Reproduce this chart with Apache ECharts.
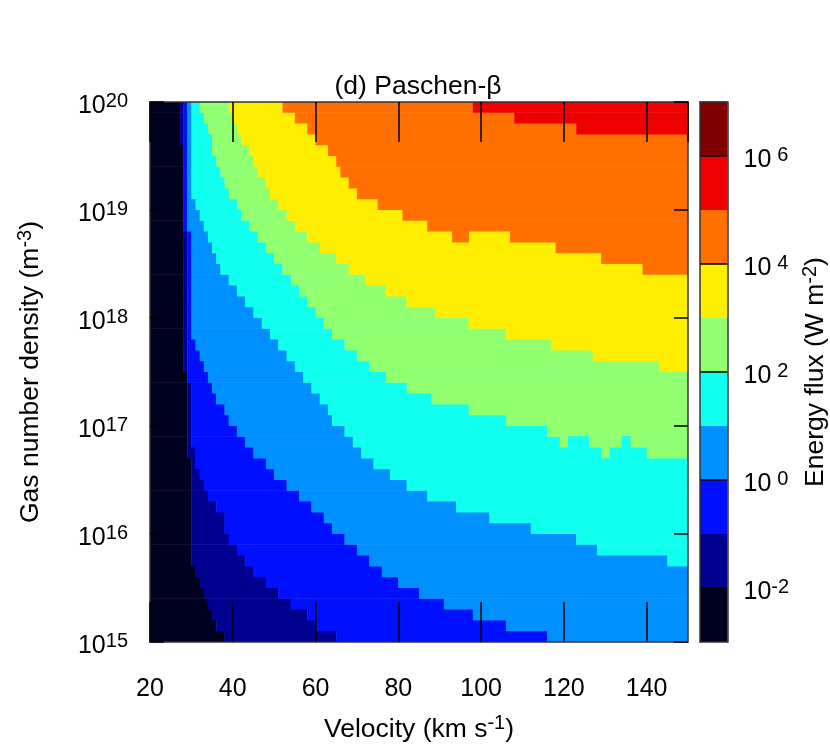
<!DOCTYPE html>
<html>
<head>
<meta charset="utf-8">
<script src="https://cdn.jsdelivr.net/npm/echarts@6/dist/echarts.min.js"></script>
<style>
html, body { margin: 0; padding: 0; background: #fff; }
#main { width: 830px; height: 756px; }
</style>
</head>
<body>
<div id="main"></div>
<script>
var FONT = 'Liberation Sans, Arial, sans-serif';

// log10 of gas number density at the bottom of each row (m^-3)
var rowExp = [15.0, 15.1, 15.2, 15.3, 15.4, 15.5, 15.6, 15.7, 15.8, 15.9,
              16.0, 16.1, 16.2, 16.3, 16.4, 16.5, 16.6, 16.7, 16.8, 16.9,
              17.0, 17.1, 17.2, 17.3, 17.4, 17.5, 17.6, 17.7, 17.8, 17.9,
              18.0, 18.1, 18.2, 18.3, 18.4, 18.5, 18.6, 18.7, 18.8, 18.9,
              19.0, 19.1, 19.2, 19.3, 19.4, 19.5, 19.6, 19.7, 19.8, 19.9];

// velocity (km/s) where the flux first reaches each decade, per row (151 = never)
var vFlux1e_2 = [38, 36, 35, 34, 33, 32, 31, 30, 30, 30, 30, 30, 30, 30, 30, 30, 30,
                 29, 29, 29, 29, 29, 29, 29, 29,
                 28, 28, 28, 28, 28, 28, 28, 28, 28, 28, 28, 28, 28, 28, 28, 28, 28, 28, 28, 28, 28,
                 27, 27, 27, 27];
var vFlux1e_1 = [65, 60, 58, 54, 51, 48, 45, 43, 41, 39, 38, 38, 36, 34, 33, 32, 31, 31, 30, 30, 30,
                 30, 30, 30, 29, 29, 29, 29,
                 29, 29, 29, 29, 29, 29, 29, 29, 29, 29,
                 28, 28, 28, 28, 28, 28, 28, 28, 28, 28, 28, 28];
var vFlux1e0 = [116, 106, 98, 91, 85, 80, 76, 73, 70, 67, 64, 62, 59, 56, 53, 50, 48, 45, 43, 41, 39,
                38, 36, 35, 34, 33, 32, 31,
                30, 30, 30, 30, 30, 30, 30, 30, 30, 30,
                29, 29, 29, 29, 29, 29, 29, 29, 29, 29, 29, 29];
var vFlux1e1 = [151, 151, 151, 151, 151, 151, 151,
                145, 128, 123, 112, 102, 94, 87, 82, 78, 74, 71, 69, 67, 64,
                63, 61, 59, 57, 55, 53, 51, 49, 47, 45, 43, 41, 39, 37, 36, 35, 34, 33, 32, 31,
                30, 30, 30, 30, 30, 30, 30, 30, 30];
var vFlux1e2 = [151, 151, 151, 151, 151, 151, 151, 151, 151, 151, 151, 151, 151, 151, 151, 151, 151,
                140, 119, 116, 106, 97, 88, 82, 77, 73, 70, 67, 64, 62, 60, 58, 56, 54, 52, 50, 48,
                46, 44, 42, 41, 39, 38, 37, 36, 35, 35, 34, 33, 32];
var vFlux1e3 = [151, 151, 151, 151, 151, 151, 151, 151, 151, 151, 151, 151, 151, 151, 151, 151, 151,
                151, 151, 151, 151, 151, 151, 151, 151,
                143, 127, 117, 106, 97, 89, 82, 77, 72, 68, 65, 61, 58, 55, 53, 51, 49, 48, 46, 45,
                44, 42, 41, 40, 39];
var vFlux1e4 = [151, 151, 151, 151, 151, 151, 151, 151, 151, 151, 151, 151, 151, 151, 151, 151, 151,
                151, 151, 151, 151, 151, 151, 151, 151, 151, 151, 151, 151, 151, 151, 151, 151, 151,
                139, 129, 118, 107, 87, 81, 75, 70, 68, 66, 65, 63, 60, 58, 55, 52];
var vFlux1e5 = [151, 151, 151, 151, 151, 151, 151, 151, 151, 151, 151, 151, 151, 151, 151, 151, 151,
                151, 151, 151, 151, 151, 151, 151, 151, 151, 151, 151, 151, 151, 151, 151, 151, 151,
                151, 151, 151, 151, 151, 151, 151, 151, 151, 151, 151, 151, 151,
                123, 108, 98];

// small patches that break the stair pattern: [row, v from, v to, level]
var islands = [[37, 93, 97, 7], [18, 121, 126, 4], [18, 134, 136, 4], [17, 129, 131, 5]];

// colour of each decade, 1e-3..1e-2 up to 1e6..1e7
var bandColors = ['#000020', '#000090', '#0010ff', '#0090ff', '#10ffee',
                  '#90ff70', '#ffee00', '#ff7000', '#ee0000', '#800000'];
var cbEdges = [-3, -2, -1, 0, 1, 2, 3, 4, 5, 6, 7];
var cbTicks = [-2, 0, 2, 4, 6];

var chart = echarts.init(document.getElementById('main'));

// turn the boundaries into row segments
var bounds = [vFlux1e_2, vFlux1e_1, vFlux1e0, vFlux1e1, vFlux1e2, vFlux1e3, vFlux1e4, vFlux1e5];
var segs = [];
for (var r = 0; r < rowExp.length; r++) {
    var edges = [20];
    for (var k = 0; k < bounds.length; k++) {
        edges.push(Math.min(150, Math.max(edges[edges.length - 1], bounds[k][r])));
    }
    edges.push(150);
    for (var k = 0; k < edges.length - 1; k++) {
        if (edges[k + 1] > edges[k]) segs.push([edges[k], edges[k + 1], rowExp[r], k]);
    }
}
islands.forEach(function (d) {
    segs.push([d[1], d[2], rowExp[d[0]], d[3]]);
});

var cbData = [];
for (var i = 0; i < cbEdges.length - 1; i++) cbData.push([cbEdges[i], cbEdges[i + 1], i]);

// tick labels
var rich = {
    n: { fontSize: 25, lineHeight: 25, padding: [9, 0, 0, 0], fontFamily: FONT, color: '#000' },
    s: { fontSize: 20, lineHeight: 20, padding: [2, 0, 0, 0], verticalAlign: 'top', fontFamily: FONT, color: '#000' },
    sp: { fontSize: 20, lineHeight: 20, padding: [2, 0, 0, 6], verticalAlign: 'top', fontFamily: FONT, color: '#000' }
};
// axis names, a touch larger
var richName = {
    n: { fontSize: 26.5, lineHeight: 26, padding: [9, 0, 0, 0], fontFamily: FONT, color: '#000' },
    s: { fontSize: 20, lineHeight: 20, padding: [2, 0, 0, 0], verticalAlign: 'top', fontFamily: FONT, color: '#000' }
};

var lineStyle = { color: '#333', width: 1.5 };
var tickStyle = { color: '#000', width: 1.5 };

var option = {
    animation: false,
    graphic: [{
        type: 'text', x: 418, y: 87,
        style: {
            text: '(d) Paschen-β', fontSize: 26.5, fontFamily: FONT, fill: '#000',
            align: 'center', verticalAlign: 'middle', textAlign: 'center', textVerticalAlign: 'middle'
        }
    }],
    grid: [
        { left: 149, top: 102, width: 539, height: 540 },
        { left: 700, top: 102, width: 29, height: 540 }
    ],
    xAxis: [
        {
            gridIndex: 0, type: 'value', position: 'bottom', min: 20, max: 150, interval: 20, z: 5,
            axisLine: { onZero: false, lineStyle: lineStyle },
            axisTick: { inside: true, length: 40, lineStyle: tickStyle },
            axisLabel: { margin: 35, fontSize: 25, color: '#000', fontFamily: FONT, showMaxLabel: false },
            splitLine: { show: false },
            name: '{n|Velocity (km s}{s|-1}{n|)}', nameLocation: 'middle', nameGap: 50,
            nameTextStyle: { rich: richName }
        },
        {
            gridIndex: 0, type: 'value', position: 'top', min: 20, max: 150, interval: 20, z: 5,
            axisLine: { onZero: false, lineStyle: lineStyle },
            axisTick: { inside: true, length: 40, lineStyle: tickStyle },
            axisLabel: { show: false }, splitLine: { show: false }
        },
        {
            gridIndex: 1, type: 'value', position: 'bottom', min: 0, max: 1, z: 5,
            axisLine: { onZero: false, lineStyle: lineStyle },
            axisTick: { show: false }, axisLabel: { show: false }, splitLine: { show: false }
        },
        {
            gridIndex: 1, type: 'value', position: 'top', min: 0, max: 1, z: 5,
            axisLine: { onZero: false, lineStyle: lineStyle },
            axisTick: { show: false }, axisLabel: { show: false }, splitLine: { show: false }
        }
    ],
    yAxis: [
        {
            gridIndex: 0, type: 'value', position: 'left', min: 15, max: 20, interval: 1, z: 5,
            axisLine: { onZero: false, lineStyle: lineStyle },
            axisTick: { inside: true, length: 14, lineStyle: tickStyle },
            axisLabel: {
                margin: 22, rich: rich,
                formatter: function (v) { return '{n|10}{s|' + Math.round(v) + '}'; }
            },
            splitLine: { show: false },
            name: '{n|Gas number density (m}{s|-3}{n|)}', nameLocation: 'middle', nameGap: 111,
            nameTextStyle: { rich: richName }
        },
        {
            gridIndex: 0, type: 'value', position: 'right', min: 15, max: 20, interval: 1, z: 5,
            axisLine: { onZero: false, lineStyle: lineStyle },
            axisTick: { inside: true, length: 14, lineStyle: tickStyle },
            axisLabel: { show: false }, splitLine: { show: false }
        },
        {
            gridIndex: 1, type: 'value', position: 'right', min: -3, max: 7, interval: 1, z: 5,
            axisLine: { onZero: false, lineStyle: lineStyle },
            axisTick: { show: false },
            axisLabel: {
                margin: 16, rich: rich,
                formatter: function (v) {
                    v = Math.round(v);
                    if (v % 2 !== 0) return '';
                    return v < 0 ? '{n|10}{s|' + v + '}' : '{n|10}{sp|' + v + '}';
                }
            },
            splitLine: { show: false },
            name: '{n|Energy flux (W m}{s|-2}{n|)}', nameLocation: 'middle', nameGap: 60,
            nameTextStyle: { rich: richName }
        },
        {
            gridIndex: 1, type: 'value', position: 'left', min: -3, max: 7, z: 5,
            axisLine: { onZero: false, lineStyle: lineStyle },
            axisTick: { show: false }, axisLabel: { show: false }, splitLine: { show: false }
        }
    ],
    series: [
        {
            type: 'custom', xAxisIndex: 0, yAxisIndex: 0, clip: true,
            encode: { x: [0, 1], y: 2 },
            data: segs,
            renderItem: function (params, api) {
                var a = api.coord([api.value(0), api.value(2) + 0.1]);
                var b = api.coord([api.value(1), api.value(2)]);
                // overlap by half a pixel so no seams show between rows
                return {
                    type: 'rect',
                    shape: { x: a[0], y: a[1] - 0.6, width: b[0] - a[0] + 0.4, height: b[1] - a[1] + 0.6 },
                    style: { fill: bandColors[api.value(3)] }
                };
            }
        },
        {
            type: 'custom', xAxisIndex: 2, yAxisIndex: 2,
            encode: { y: [0, 1] },
            data: cbData,
            renderItem: function (params, api) {
                var a = api.coord([0, api.value(1)]);
                var b = api.coord([1, api.value(0)]);
                return {
                    type: 'rect',
                    shape: { x: a[0], y: a[1] - 0.5, width: b[0] - a[0], height: b[1] - a[1] + 0.5 },
                    style: { fill: bandColors[api.value(2)] }
                };
            }
        },
        {
            type: 'custom', xAxisIndex: 2, yAxisIndex: 2, z: 4,
            encode: { y: 0 },
            data: cbTicks.map(function (t) { return [t]; }),
            renderItem: function (params, api) {
                var a = api.coord([0, api.value(0)]);
                var b = api.coord([1, api.value(0)]);
                return {
                    type: 'line',
                    shape: { x1: a[0], y1: a[1], x2: b[0], y2: b[1] },
                    style: { stroke: '#000', lineWidth: 1.5 }
                };
            }
        }
    ]
};
chart.setOption(option);
</script>
</body>
</html>
